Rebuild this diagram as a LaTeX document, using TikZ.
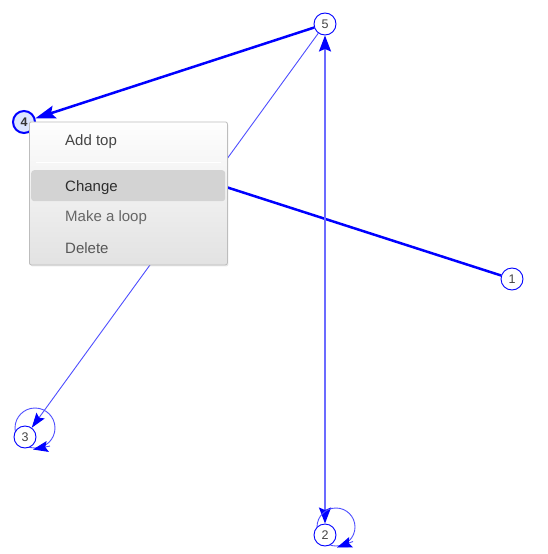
\documentclass[tikz,border=0pt]{standalone}
\usepackage{fontspec}
\setmainfont{Liberation Sans}
\usetikzlibrary{arrows.meta,calc,shadows}
\pgfdeclarelayer{edges}
\pgfsetlayers{edges,main}
\definecolor{edgeblue}{HTML}{0000FF}
\definecolor{lightedge}{HTML}{6B6BFF}
\definecolor{thinedge}{HTML}{4F4FFF}
\definecolor{selfill}{HTML}{DCE6FF}
\definecolor{menuborder}{HTML}{BDBDBD}
\definecolor{menutop}{HTML}{FEFEFE}
\definecolor{menubot}{HTML}{E2E2E2}
\definecolor{menuhl}{HTML}{D3D3D3}
\definecolor{labelgray}{HTML}{444444}
\begin{document}
\begin{tikzpicture}[x=1pt,y=-1pt,
  vertex/.style={circle,draw=edgeblue,line width=0.9pt,fill=white,minimum size=22pt,inner sep=0pt,
    font=\fontsize{12.5}{14}\selectfont,text=labelgray},
  selvertex/.style={vertex,line width=2pt,fill=selfill,font=\fontsize{12.5}{14}\selectfont\bfseries,text=black!80},
  thickedge/.style={draw=edgeblue,line width=2.5pt},
  midedge/.style={draw=lightedge,line width=2pt},
  thinedgeline/.style={draw=thinedge,line width=0.9pt},
  loopline/.style={draw=thinedge,line width=0.9pt},
  bigtip/.style={-{Stealth[length=20pt,width=13pt,inset=3.5pt,color=edgeblue]}},
  midtip/.style={{Stealth[length=16pt,width=12pt,inset=2.5pt,color=edgeblue]}-{Stealth[length=16pt,width=12pt,inset=2.5pt,color=edgeblue]}},
  smalltip/.style={-{Stealth[length=15pt,width=10pt,inset=2.5pt,color=edgeblue]}},
  looptip/.style={-{Stealth[length=15pt,width=11pt,inset=2.5pt,color=edgeblue]}},
  menubox/.style={draw=menuborder,line width=0.8pt,top color=menutop,bottom color=menubot,rounded corners=2pt,
    drop shadow={shadow xshift=1pt,shadow yshift=-1.5pt,opacity=0.18}},
  menuitem/.style={anchor=west,inner sep=0pt,font=\fontsize{15}{18}\selectfont},
  hlbox/.style={fill=menuhl,rounded corners=3pt,draw=none}
]
\useasboundingbox (0,0) rectangle (547,554);

% vertices
\node[vertex] (n5) at (325,24) {5};
\node[selvertex] (n4) at (24,122) {4};
\node[vertex] (n1) at (512,279) {1};
\node[vertex] (n3) at (25,437) {3};
\node[vertex] (n2) at (325,535) {2};

% loop helpers
\coordinate (l3c) at (35,428);
\coordinate (l3a) at (50,446);
\coordinate (l3b) at (33,449.5);
\coordinate (l2c) at (336,527);
\coordinate (l2a) at (353,541.5);
\coordinate (l2b) at (337,547.5);

\begin{pgfonlayer}{edges}
  \fill[white] (0,0) rectangle (547,554);
  \draw[thickedge] (n1) -- (n4);
  \draw[thinedgeline,smalltip] (n5) -- (n3);
  \draw[midedge,midtip] (n2) -- (n5);
  \draw[thickedge,bigtip] (n5) -- (n4);
  \draw[loopline] (l3c) circle[radius=20pt];
  \draw[loopline] (l2c) circle[radius=19pt];
\end{pgfonlayer}
\draw[loopline,looptip] (l3a) -- (l3b);
\draw[loopline,looptip] (l2a) -- (l2b);

% context menu
\node[menubox,anchor=north west,minimum width=198pt,minimum height=143pt,inner sep=0pt] (menu) at (29,121.5) {};
\draw[white,line width=1pt] ($(menu.north west)+(7,40.5)$) coordinate (sepa) -- ($(menu.north east)+(-7,40.5)$) coordinate (sepb);
\node[hlbox,anchor=north west,minimum width=194pt,minimum height=31pt,inner sep=0pt] (hl) at (31,170) {};
\node[menuitem,text=black!73] (m1) at (65,141.5) {Add top};
\node[menuitem,text=black!82] (m2) at (65,187.5) {Change};
\node[menuitem,text=black!60] (m3) at (65,218) {Make a loop};
\node[menuitem,text=black!66] (m4) at (65,248.5) {Delete};
\end{tikzpicture}
\end{document}
